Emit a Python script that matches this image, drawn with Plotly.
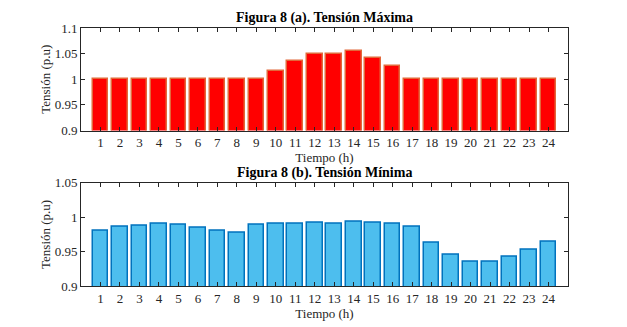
import plotly.graph_objects as go
from plotly.subplots import make_subplots

hours = list(range(1, 25))
v_max = [1.0, 1.0, 1.0, 1.0, 1.0, 1.0, 1.0, 1.0, 1.0, 1.016, 1.035, 1.05,
         1.049, 1.055, 1.041, 1.025, 1.0, 1.0, 1.0, 1.0, 1.0, 1.0, 1.0, 1.0]
v_min = [0.980, 0.986, 0.987, 0.990, 0.989, 0.985, 0.980, 0.978, 0.989, 0.990, 0.991, 0.992,
         0.991, 0.993, 0.992, 0.990, 0.986, 0.963, 0.946, 0.935, 0.935, 0.942, 0.953, 0.964]
ytick_top = [0.9, 0.95, 1.0, 1.05, 1.1]
ytext_top = ["0.9", "0.95", "1", "1.05", "1.1"]
ytick_bot = [0.9, 0.95, 1.0, 1.05]
ytext_bot = ["0.9", "0.95", "1", "1.05"]
title_a = "Figura 8 (a). Tensión Máxima"
title_b = "Figura 8 (b). Tensión Mínima"
xlabel = "Tiempo (h)"
ylabel = "Tensión (p.u)"

FONT = "'Liberation Serif', 'DejaVu Serif', serif"
AX = "#262626"

fig = make_subplots(rows=2, cols=1, vertical_spacing=0.2)
fig.add_trace(go.Bar(x=hours, y=v_max, width=0.8,
                     marker=dict(color="#FF0000", line=dict(color="#E2683A", width=1.5))),
              row=1, col=1)
fig.add_trace(go.Bar(x=hours, y=v_min, width=0.8,
                     marker=dict(color="#4DBEEE", line=dict(color="#0072BD", width=1.5))),
              row=2, col=1)

common_x = dict(range=[0, 25], tickvals=hours, ticks="inside", ticklen=4, tickcolor=AX,
                showline=True, linecolor=AX, linewidth=1, mirror="ticks", showgrid=False,
                zeroline=False, tickfont=dict(family=FONT, size=13, color=AX),
                title=dict(text=xlabel, font=dict(family=FONT, size=13, color=AX), standoff=1))
fig.update_xaxes(**common_x, row=1, col=1)
fig.update_xaxes(**common_x, row=2, col=1)

common_y = dict(ticks="inside", ticklen=4, tickcolor=AX, showline=True, linecolor=AX,
                linewidth=1, mirror="ticks", showgrid=False, zeroline=False,
                tickfont=dict(family=FONT, size=13, color=AX),
                title=dict(text=ylabel, font=dict(family=FONT, size=13, color=AX), standoff=1))
fig.update_yaxes(**common_y, range=[0.9, 1.1], tickvals=ytick_top, ticktext=ytext_top, row=1, col=1)
fig.update_yaxes(**common_y, range=[0.9, 1.05], tickvals=ytick_bot, ticktext=ytext_bot, row=2, col=1)

fig.update_layout(
    width=619, height=319,
    margin=dict(l=73, r=59, t=20, b=41),
    paper_bgcolor="white", plot_bgcolor="white",
    showlegend=False, bargap=0,
    font=dict(family=FONT, size=13, color=AX),
)
fig.layout.yaxis.domain = [0.6027, 1.0]
fig.layout.yaxis2.domain = [0.0, 0.4004]

fig.add_annotation(text="<b>" + title_a + "</b>", xref="paper", yref="paper", x=0.5, y=1.0,
                   yshift=0, xanchor="center", yanchor="bottom", showarrow=False,
                   font=dict(family=FONT, size=14, color="black"))
fig.add_annotation(text="<b>" + title_b + "</b>", xref="paper", yref="paper", x=0.5, y=0.4004,
                   yshift=0, xanchor="center", yanchor="bottom", showarrow=False,
                   font=dict(family=FONT, size=14, color="black"))

fig.write_html("out.html")
